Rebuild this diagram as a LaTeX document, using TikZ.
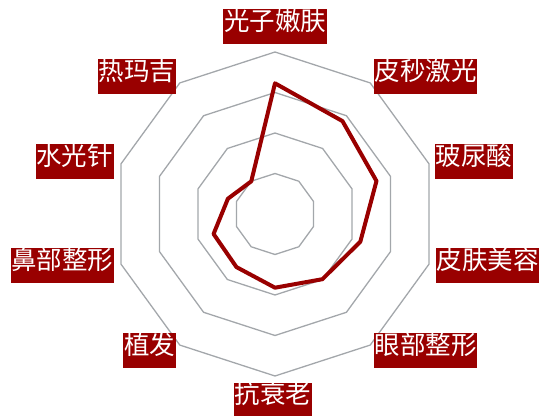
\documentclass[tikz,border=0pt]{standalone}
\usepackage{fontspec}
\newfontfamily\cjk{Noto Sans CJK SC}
\definecolor{dred}{HTML}{990000}
\definecolor{ringgray}{HTML}{A3A7AB}
\begin{document}
\begin{tikzpicture}[x=1pt,y=1pt,
  lbl/.style={fill=dred, text=white, font=\cjk\fontsize{25.5}{25.5}\selectfont,
    inner xsep=0.75pt, inner ysep=0pt, minimum height=34.7pt,
    text height=0.83em, text depth=0.07em},
  ringline/.style={draw=ringgray, line width=1.3pt},
  dataline/.style={draw=dred, line width=4pt, line join=round}]
\useasboundingbox (0,0) rectangle (540,415);
\coordinate (c) at (275,201);
\begin{scope}[shift={(c)}]
  \foreach \r in {40.5,81,121.5,162}{
    \draw[ringline] (90:\r) \foreach \a in {126,162,...,414}{ -- (\a:\r) } -- cycle;
  }
  \draw[dataline] (90:130.7) -- (54:114.8) -- (18:106.7) -- (-18:89.7) -- (-54:80.6)
    -- (-90:73.7) -- (-126:65.6) -- (-162:64.6) -- (162:49.5) -- (126:40.4) -- cycle;
\end{scope}
\node[lbl] (l1) at (275,388.3) {光子嫩肤};
\node[lbl] (l2) at (425.7,338.2) {皮秒激光};
\node[lbl] (l3) at (473.8,253.7) {玻尿酸};
\node[lbl] (l4) at (487.5,149.2) {皮肤美容};
\node[lbl] (l5) at (425.7,64.3) {眼部整形};
\node[lbl] (l6) at (273,15) {抗衰老};
\node[lbl] (l7) at (149.5,64.5) {植发};
\node[lbl] (l8) at (62.3,149.2) {鼻部整形};
\node[lbl] (l9) at (74.7,253.7) {水光针};
\node[lbl] (l10) at (136.8,338.7) {热玛吉};
\end{tikzpicture}
\end{document}
